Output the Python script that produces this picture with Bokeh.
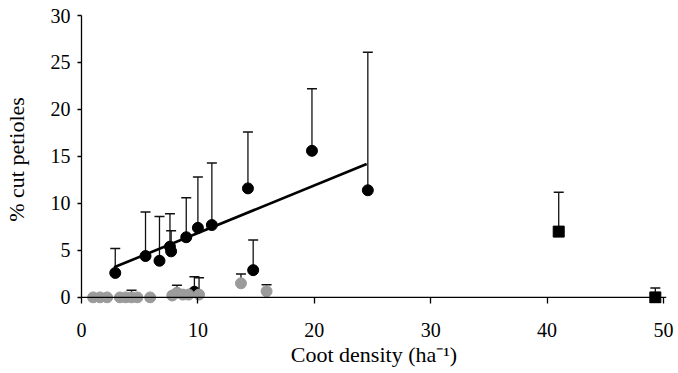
from bokeh.plotting import figure
from bokeh.models import ColumnDataSource, Whisker, TeeHead, Span, FixedTicker, Range1d
from bokeh.embed import file_html
from bokeh.resources import INLINE

# ---- data ----
black_x = [2.9, 5.5, 6.7, 7.6, 7.7, 9.0, 10.0, 11.2, 14.3, 19.8, 24.6, 14.75, 9.7]
black_y = [2.6, 4.4, 3.9, 5.4, 4.9, 6.4, 7.4, 7.7, 11.6, 15.6, 11.4, 2.9, 0.6]
black_upper = [5.2, 9.1, 8.6, 8.9, 7.1, 10.6, 12.8, 14.3, 17.6, 22.2, 26.1, 6.1, 2.2]

gray_x = [1.0, 1.6, 2.2, 3.3, 3.8, 4.3, 4.8, 5.9, 7.8, 8.2, 8.7, 9.2, 10.1, 13.7, 15.9]
gray_y = [0.0, 0.0, 0.0, 0.0, 0.0, 0.0, 0.0, 0.0, 0.2, 0.5, 0.3, 0.3, 0.3, 1.5, 0.65]
gray_err_x = [4.3, 8.2, 10.1, 13.7, 15.9]
gray_err_y = [0.0, 0.5, 0.3, 1.5, 0.65]
gray_err_upper = [0.75, 1.3, 2.1, 2.5, 1.35]

square_x = [41.0, 49.3]
square_y = [7.0, 0.0]
square_upper = [11.2, 1.0]

reg_x = [2.8, 24.5]
reg_y = [3.2, 14.2]

x_ticks = [0, 10, 20, 30, 40, 50]
y_ticks = [0, 5, 10, 15, 20, 25, 30]

FONT = "Liberation Serif"
GRAY = "#9b9b9b"

p = figure(frame_width=585, frame_height=288,
           x_range=Range1d(0, 50.26), y_range=Range1d(-0.65, 30),
           output_backend="svg", toolbar_location=None,
           min_border_left=80, min_border_right=13, min_border_top=15, min_border_bottom=66)
p.outline_line_color = None
p.grid.visible = False
p.background_fill_color = "white"
p.border_fill_color = "white"

# axes
xa = p.xaxis[0]
xa.ticker = FixedTicker(ticks=x_ticks)
xa.axis_line_color = None
xa.major_tick_in = 6
xa.major_tick_out = 0
xa.major_tick_line_color = "black"
xa.major_tick_line_width = 1.3
xa.minor_tick_line_color = None
xa.major_label_standoff = 19
xa.major_label_text_font = FONT
xa.major_label_text_font_size = "20px"
xa.major_label_text_color = "black"
xa.axis_label = "Coot density (ha\u207b\u00b9)"
xa.axis_label_text_font = FONT
xa.axis_label_text_font_size = "22px"
xa.axis_label_text_font_style = "normal"
xa.axis_label_text_color = "black"
xa.axis_label_standoff = 2

ya = p.yaxis[0]
ya.ticker = FixedTicker(ticks=y_ticks)
ya.bounds = (0, 30)
ya.axis_line_color = "black"
ya.axis_line_width = 1.3
ya.major_tick_in = 0
ya.major_tick_out = 4
ya.major_tick_line_width = 1.3
ya.minor_tick_line_color = None
ya.major_label_standoff = 7
ya.major_label_text_font = FONT
ya.major_label_text_font_size = "20px"
ya.major_label_text_color = "black"
ya.axis_label = "% cut petioles"
ya.axis_label_text_font = FONT
ya.axis_label_text_font_size = "22px"
ya.axis_label_text_font_style = "normal"
ya.axis_label_text_color = "black"
ya.axis_label_standoff = 19

# x axis line at y = 0
p.add_layout(Span(location=0, dimension="width", line_color="black", line_width=1.3))

# error bars (upper only)
def add_err(xs, ys, ups):
    src = ColumnDataSource(dict(x=xs, lo=ys, up=ups))
    w = Whisker(base="x", lower="lo", upper="up", source=src, dimension="height",
                line_color="#111111", line_width=1.3,
                upper_head=TeeHead(size=10, line_color="#111111", line_width=1.5),
                lower_head=None, level="underlay")
    p.add_layout(w)

add_err(black_x, black_y, black_upper)
add_err(gray_err_x, gray_err_y, gray_err_upper)
add_err(square_x, square_y, square_upper)

# regression line
p.line(reg_x, reg_y, line_color="black", line_width=2.6)

# points
p.scatter(black_x, black_y, marker="circle", size=11, fill_color="black", line_color="black")
p.scatter(gray_x, gray_y, marker="circle", size=11, fill_color=GRAY, line_color=GRAY)
p.scatter(square_x, square_y, marker="square", size=11, fill_color="black", line_color="black")

open("out.html", "w").write(file_html(p, INLINE))
